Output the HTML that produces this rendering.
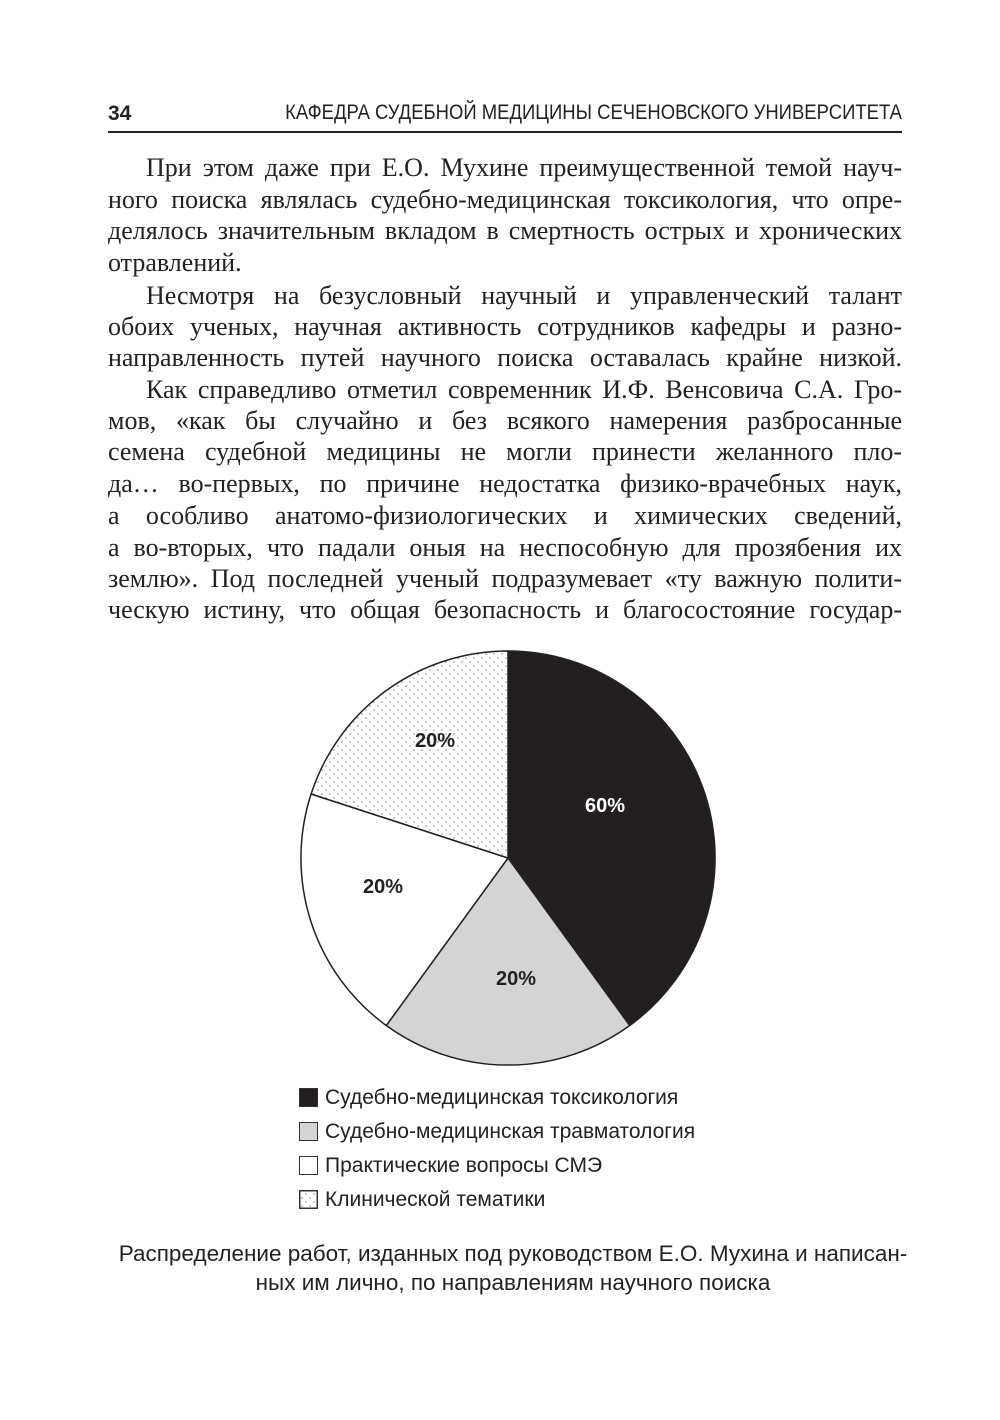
<!DOCTYPE html>
<html><head><meta charset="utf-8"><style>
body{margin:0;width:1000px;height:1420px;background:#fff;position:relative;overflow:hidden}
.l{position:absolute;left:108px;width:794px;font-family:"Liberation Serif",serif;font-size:26px;line-height:32px;height:32px;text-align:justify;text-align-last:justify;color:#222;white-space:nowrap}
.l.s{text-align-last:left}
.i{text-indent:38px}
.h{position:absolute;font-family:"Liberation Sans",sans-serif;color:#222;white-space:nowrap}
.lg{position:absolute;left:299px;font-family:"Liberation Sans",sans-serif;font-size:21px;color:#222;line-height:24px;white-space:nowrap}
.lg span{display:inline-block;width:17px;height:17px;border:1px solid #333;vertical-align:-3px;margin-right:7px}
</style></head><body>
<div class="h" style="left:108px;top:102px;font-size:21px;font-weight:bold">34</div>
<div class="h" style="right:98px;top:101px;font-size:21px;transform:scaleX(0.88);transform-origin:right top">КАФЕДРА СУДЕБНОЙ МЕДИЦИНЫ СЕЧЕНОВСКОГО УНИВЕРСИТЕТА</div>
<div style="position:absolute;left:108px;top:131px;width:794px;height:2px;background:#222"></div>

<div class="l i" style="top:152px">При этом даже при Е.О. Мухине преимущественной темой науч-</div>
<div class="l" style="top:184px">ного поиска являлась судебно-медицинская токсикология, что опре-</div>
<div class="l" style="top:215px">делялось значительным вкладом в смертность острых и хронических</div>
<div class="l s" style="top:247px">отравлений.</div>
<div class="l i" style="top:280px">Несмотря на безусловный научный и управленческий талант</div>
<div class="l" style="top:311px">обоих ученых, научная активность сотрудников кафедры и разно-</div>
<div class="l" style="top:342px">направленность путей научного поиска оставалась крайне низкой.</div>
<div class="l i" style="top:374px">Как справедливо отметил современник И.Ф. Венсовича С.А. Гро-</div>
<div class="l" style="top:405px">мов, «как бы случайно и без всякого намерения разбросанные</div>
<div class="l" style="top:436px">семена судебной медицины не могли принести желанного пло-</div>
<div class="l" style="top:468px">да… во-первых, по причине недостатка физико-врачебных наук,</div>
<div class="l" style="top:500px">а особливо анатомо-физиологических и химических сведений,</div>
<div class="l" style="top:532px">а во-вторых, что падали оныя на неспособную для прозябения их</div>
<div class="l" style="top:563px">землю». Под последней ученый подразумевает «ту важную полити-</div>
<div class="l" style="top:594px">ческую истину, что общая безопасность и благосостояние государ-</div>

<svg style="position:absolute;left:0;top:0" width="1000" height="1420">
<defs><pattern id="d" width="8" height="8" patternUnits="userSpaceOnUse"><rect width="8" height="8" fill="#fff"/><circle cx="2" cy="2" r="0.8" fill="#888"/><circle cx="6" cy="6" r="0.8" fill="#888"/></pattern></defs>
<g stroke="#222" stroke-width="1.5">
<path d="M508,858 L508,651 A207,207 0 0 1 629.7,1025.5 Z" fill="#231f20"/>
<path d="M508,858 L629.7,1025.5 A207,207 0 0 1 386.3,1025.5 Z" fill="#d4d4d4"/>
<path d="M508,858 L386.3,1025.5 A207,207 0 0 1 311.1,794 Z" fill="#fff"/>
<path d="M508,858 L311.1,794 A207,207 0 0 1 508,651 Z" fill="url(#d)"/>
</g>
<g font-family="Liberation Sans,sans-serif" font-weight="bold" font-size="20" text-anchor="middle">
<text x="605" y="812" fill="#fff">60%</text>
<text x="435" y="747" fill="#222">20%</text>
<text x="383" y="893" fill="#222">20%</text>
<text x="516" y="985" fill="#222">20%</text>
</g>
<rect x="300" y="1191" width="17" height="17" fill="url(#d)" stroke="#333"/>
</svg>
<div class="lg" style="top:1086px"><span style="background:#231f20"></span>Судебно-медицинская токсикология</div>
<div class="lg" style="top:1120px"><span style="background:#d4d4d4"></span>Судебно-медицинская травматология</div>
<div class="lg" style="top:1154px"><span style="background:#fff"></span>Практические вопросы СМЭ</div>
<div class="lg" style="top:1188px"><span style="background:transparent"></span>Клинической тематики</div>

<div class="h" style="left:73px;top:1239px;width:880px;text-align:center;font-size:22.5px;line-height:29px;white-space:normal">Распределение работ, изданных под руководством Е.О. Мухина и написан-<br>ных им лично, по направлениям научного поиска</div>
</body></html>
